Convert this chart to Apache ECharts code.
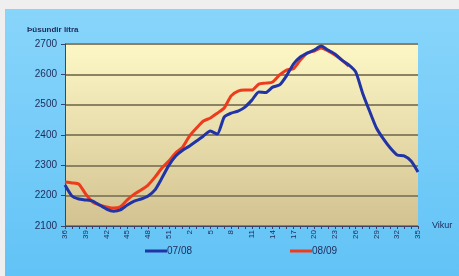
<!DOCTYPE html>
<html>
<head>
<meta charset="utf-8">
<script src="https://cdn.jsdelivr.net/npm/echarts@6/dist/echarts.min.js"></script>
<style>
  html, body { margin: 0; padding: 0; background: #efefef; }
  #chart { width: 459px; height: 276px; }
</style>
</head>
<body>
<div id="chart"></div>
<script>
// vikur: 36..52, 1..35
var weeks = [36, 37, 38, 39, 40, 41, 42, 43, 44, 45, 46, 47, 48, 49, 50, 51, 52,
    1, 2, 3, 4, 5, 6, 7, 8, 9, 10, 11, 12, 13, 14, 15, 16, 17, 18, 19, 20,
    21, 22, 23, 24, 25, 26, 27, 28, 29, 30, 31, 32, 33, 34, 35];

// 07/08
var s0708 = [2235, 2199, 2189, 2186, 2182, 2169, 2156, 2149, 2153, 2169, 2182, 2189, 2199,
    2219, 2258, 2300, 2331, 2350, 2364, 2380, 2397, 2413, 2403, 2459, 2472, 2479, 2492,
    2515, 2542, 2540, 2558, 2565, 2595, 2634, 2657, 2670, 2680, 2693, 2680, 2667, 2647,
    2631, 2608, 2538, 2479, 2423, 2387, 2357, 2334, 2331, 2314, 2278];

// 08/09
var s0809 = [2245, 2242, 2238, 2205, 2179, 2169, 2163, 2159, 2163, 2186, 2205, 2219, 2235,
    2261, 2291, 2314, 2341, 2360, 2397, 2423, 2446, 2456, 2472, 2489, 2529, 2545, 2548,
    2548, 2568, 2571, 2575, 2598, 2614, 2618, 2647, 2670, 2677, 2687, 2677, 2664, 2647,
    2627];

var yTicks = [2100, 2200, 2300, 2400, 2500, 2600, 2700];

window.onload = function () {
    var myChart = echarts.init(document.getElementById('chart'));
    var txt = '#1d2a58';

    option = {
        animation: false,
        backgroundColor: 'transparent',
        graphic: [{
            type: 'rect',
            left: 5, top: 9,
            shape: { width: 454, height: 267 },
            style: {
                fill: new echarts.graphic.LinearGradient(0, 0, 0, 1, [
                    { offset: 0, color: '#88d5fb' },
                    { offset: 1, color: '#62c3f6' }
                ])
            },
            z: -10
        }],
        title: {
            text: 'Þúsundir lítra',
            left: 22, top: 21,
            textStyle: { fontFamily: 'Liberation Sans', fontSize: 8, fontWeight: 'bold', color: txt }
        },
        legend: {
            left: 140, top: 241,
            itemGap: 98,
            itemWidth: 22, itemHeight: 10,
            icon: 'path://M0,4 L22,4 L22,7 L0,7 Z',
            textStyle: { fontFamily: 'Liberation Sans', fontSize: 10, color: txt, padding: [0, 0, 0, -5] },
            data: ['07/08', '08/09']
        },
        grid: {
            left: 65, right: 41, top: 44, bottom: 50,
            show: true,
            borderWidth: 0,
            backgroundColor: new echarts.graphic.LinearGradient(0, 0, 0, 1, [
                { offset: 0, color: '#fdf7c6' },
                { offset: 1, color: '#d3c291' }
            ])
        },
        xAxis: {
            type: 'category',
            boundaryGap: false,
            data: weeks,
            name: 'Vikur',
            nameLocation: 'end',
            nameGap: 14,
            nameTextStyle: { fontFamily: 'Liberation Sans', fontSize: 9, color: txt, padding: [6, 0, 0, 0] },
            axisLine: { lineStyle: { color: '#3b4468', width: 1 } },
            axisTick: { interval: 0, length: 3, lineStyle: { color: '#3b4468' } },
            axisLabel: {
                interval: 2, rotate: 90, margin: 4,
                fontFamily: 'Liberation Sans', fontSize: 8, color: txt
            }
        },
        yAxis: {
            type: 'value',
            min: yTicks[0], max: yTicks[yTicks.length - 1], interval: 100,
            axisLine: { show: true, lineStyle: { color: '#3b4468', width: 1 } },
            axisTick: { show: true, length: 4, lineStyle: { color: '#3b4468' } },
            axisLabel: {
                margin: 8,
                formatter: function (v) { return String(v); },
                fontFamily: 'Liberation Sans', fontSize: 10, color: txt, letterSpacing: -0.5
            },
            splitLine: { lineStyle: { color: '#8b8262', width: 2 } }
        },
        series: [
            {
                name: '08/09',
                type: 'line',
                data: s0809,
                smooth: 0.2,
                symbol: 'none',
                itemStyle: { color: '#ee3b1c' },
                lineStyle: { color: '#ee3b1c', width: 3 },
                z: 3
            },
            {
                name: '07/08',
                type: 'line',
                data: s0708,
                smooth: 0.2,
                symbol: 'none',
                itemStyle: { color: '#2134a6' },
                lineStyle: { color: '#2134a6', width: 3 },
                z: 4
            }
        ]
    };
    myChart.setOption(option);
};
</script>
</body>
</html>
